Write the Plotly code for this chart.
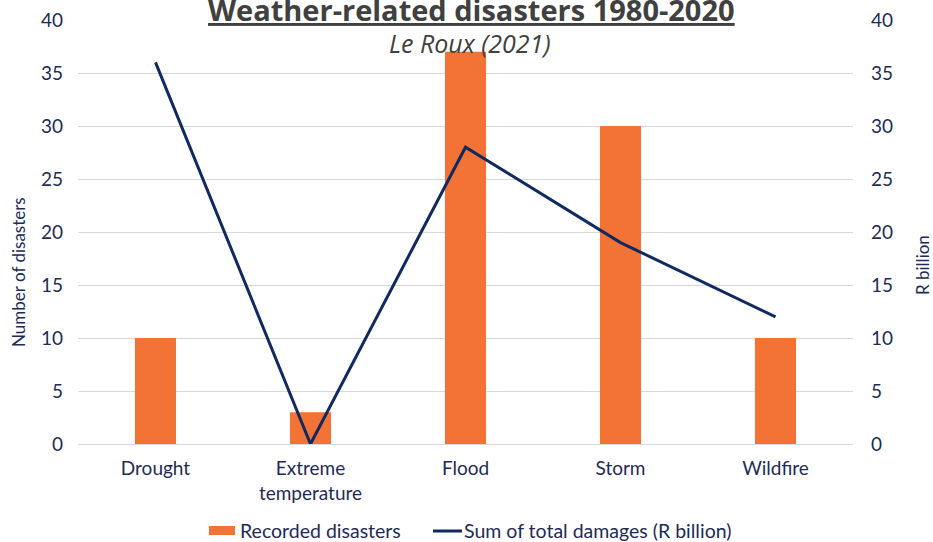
import plotly.graph_objects as go

# Weather-related disasters by type, 1980-2020
categories = ["Drought", "Extreme<br>temperature", "Flood", "Storm", "Wildfire"]
recorded_disasters = [10, 3, 37, 30, 10]
total_damages_rbn = [36, 0, 28, 19, 12]
y_ticks = [0, 5, 10, 15, 20, 25, 30, 35, 40]

bar_name = "Recorded disasters"
line_name = "Sum of total damages (R billion)"

ORANGE = "#F37236"
NAVY = "#102A60"
TICK_NAVY = "#1E2B57"
GRID = "#D9D9D9"
TITLE_GRAY = "#404040"

W, H = 933, 542
ML, MR, MT, MB = 78, 80, 20, 98
PW, PH = W - ML - MR, H - MT - MB


def px_x(px):
    """Pixel column -> paper x."""
    return (px - ML) / PW


def px_y(py):
    """Pixel row -> paper y."""
    return (H - MB - py) / PH


fig = go.Figure()

fig.add_trace(go.Bar(
    x=categories,
    y=recorded_disasters,
    name=bar_name,
    marker=dict(color=ORANGE, line=dict(width=0)),
    yaxis="y",
))

fig.add_trace(go.Scatter(
    x=categories,
    y=total_damages_rbn,
    name=line_name,
    mode="lines",
    line=dict(color=NAVY, width=3),
    yaxis="y2",
))

tick_font = dict(family="Lato, sans-serif", size=19, color=TICK_NAVY)
legend_font = dict(family="Lato, sans-serif", size=19.5, color=TICK_NAVY)

# Legend drawn below the plot: swatches as shapes, labels as annotations
shapes = [
    dict(type="rect", xref="paper", yref="paper",
         x0=px_x(209), x1=px_x(235), y0=px_y(535), y1=px_y(526),
         fillcolor=ORANGE, line=dict(width=0)),
    dict(type="line", xref="paper", yref="paper",
         x0=px_x(433), x1=px_x(462), y0=px_y(531), y1=px_y(531),
         line=dict(color=NAVY, width=3)),
]

annotations = [
    dict(text="<b><u>Weather-related disasters 1980-2020</u></b>",
         xref="paper", yref="paper", x=px_x(471), y=px_y(10),
         xanchor="center", yanchor="middle", showarrow=False,
         font=dict(family="Open Sans, sans-serif", size=29, color=TITLE_GRAY)),
    dict(text="<i>Le Roux (2021)</i>",
         xref="paper", yref="paper", x=px_x(470), y=px_y(43),
         xanchor="center", yanchor="middle", showarrow=False,
         font=dict(family="Open Sans, sans-serif", size=25, color=TITLE_GRAY)),
    dict(text="Number of disasters",
         xref="paper", yref="paper", x=px_x(18), y=px_y(272),
         xanchor="center", yanchor="middle", textangle=-90, showarrow=False,
         font=dict(family="Lato, sans-serif", size=17, color=TICK_NAVY)),
    dict(text="R billion",
         xref="paper", yref="paper", x=px_x(922), y=px_y(265),
         xanchor="center", yanchor="middle", textangle=-90, showarrow=False,
         font=dict(family="Lato, sans-serif", size=17, color=TICK_NAVY)),
    dict(text=bar_name,
         xref="paper", yref="paper", x=px_x(238), y=px_y(530),
         xanchor="left", yanchor="middle", showarrow=False,
         font=legend_font),
    dict(text=line_name,
         xref="paper", yref="paper", x=px_x(462), y=px_y(530),
         xanchor="left", yanchor="middle", showarrow=False,
         font=legend_font),
]

fig.update_layout(
    width=W,
    height=H,
    margin=dict(l=ML, r=MR, t=MT, b=MB, autoexpand=False),
    paper_bgcolor="white",
    plot_bgcolor="white",
    bargap=0.735,
    showlegend=False,
    xaxis=dict(
        type="category",
        range=[-0.5, 4.5],
        showgrid=False,
        showline=True,
        linecolor=GRID,
        linewidth=1,
        ticks="",
        tickfont=tick_font,
        ticklabelstandoff=7,
    ),
    yaxis=dict(
        range=[0, 40],
        tickvals=y_ticks,
        showgrid=True,
        gridcolor=GRID,
        gridwidth=1,
        zeroline=False,
        showline=False,
        ticks="",
        tickfont=tick_font,
        ticklabelstandoff=14,
    ),
    yaxis2=dict(
        range=[0, 40],
        tickvals=y_ticks,
        overlaying="y",
        side="right",
        showgrid=False,
        zeroline=False,
        showline=False,
        ticks="",
        tickfont=tick_font,
        ticklabelstandoff=17,
    ),
    shapes=shapes,
    annotations=annotations,
)

fig.write_html("out.html")
